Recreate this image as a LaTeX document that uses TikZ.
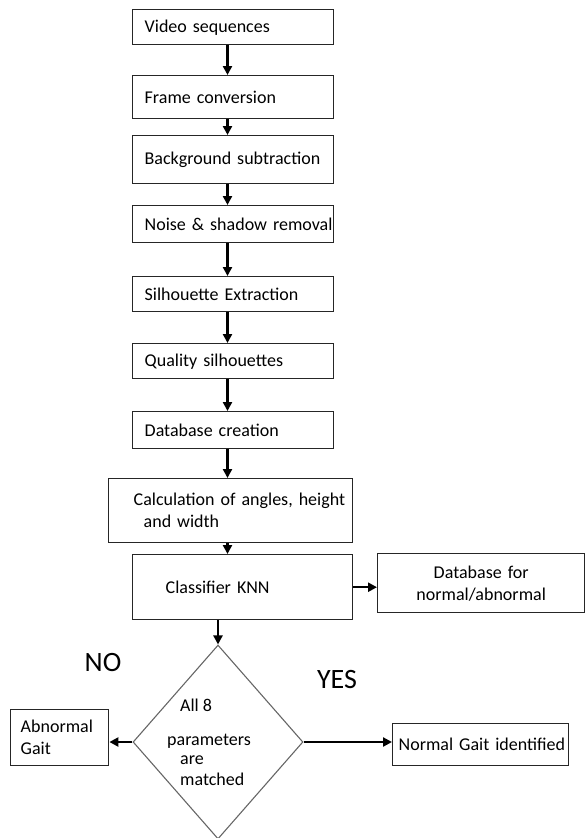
\documentclass[tikz,border=0pt]{standalone}
\usepackage{fontspec}
\setmainfont{Carlito}
\usepackage{tikz}
\usetikzlibrary{shapes.geometric,arrows.meta,positioning,calc}

\tikzset{
    stepbox/.style={draw=black!85, line width=1.4pt, anchor=north west, align=left,
        inner ysep=2pt, font=\fontsize{18pt}{22pt}\selectfont},
    flow/.style={line width=2.3pt, -{Triangle[length=9pt,width=9pt]}},
    answer/.style={font=\fontsize{28pt}{32pt}\selectfont}
}

\begin{document}
\begin{tikzpicture}[x=1pt, y=-1pt]
    \useasboundingbox (0,0) rectangle (585,838);

    % main chain of processing steps
    \node[stepbox, inner xsep=12pt, text width=177pt, minimum height=35pt] (video) at (132,9) {Video sequences};
    \node[stepbox, inner xsep=12pt, text width=177pt, minimum height=43pt] (frame) at (132,75) {Frame conversion};
    \node[stepbox, inner xsep=12pt, text width=177pt, minimum height=48pt] (bgsub) at (132,135) {Background subtraction};
    \node[stepbox, inner xsep=12pt, text width=177pt, minimum height=37pt] (noise) at (132,205) {\mbox{Noise \& shadow removal}};
    \node[stepbox, inner xsep=12pt, text width=177pt, minimum height=35pt] (silh) at (132,276) {Silhouette Extraction};
    \node[stepbox, inner xsep=12pt, text width=177pt, minimum height=35pt] (quality) at (132,343) {Quality silhouettes};
    \node[stepbox, inner xsep=12pt, text width=177pt, minimum height=37pt] (dbcreate) at (132,411) {Database creation};
    \node[stepbox, inner xsep=25pt, text width=194pt, minimum height=64pt] (calc) at (108,478)
        {\mbox{Calculation of angles, height}\\\hspace*{10pt}and width};
    \node[stepbox, inner xsep=33pt, text width=154pt, minimum height=65pt] (knn) at (132,554) {Classifier KNN};
    \node[stepbox, align=center, inner xsep=8pt, text width=191pt, minimum height=59pt] (dbref) at (377,553)
        {Database for\\normal/abnormal};

    % decision
    \node[diamond, draw=black!60, line width=1.1pt, minimum width=170pt, minimum height=194pt,
        inner sep=-4pt, shape aspect=0.876, align=left, font=\fontsize{18pt}{22pt}\selectfont] (check) at (218,742)
        {\hspace*{13pt}All 8\\[12pt]parameters\kern18pt\\[-3pt]\hspace*{13pt}are\\[-1pt]\hspace*{13pt}matched};
    \node[stepbox, inner xsep=10pt, text width=78pt, minimum height=56pt] (abnormal) at (10,709) {Abnormal\\Gait};
    \node[stepbox, inner xsep=6pt, text width=164pt, minimum height=42pt] (normal) at (392,723) {\mbox{Normal Gait identified}};

    \node[answer] (no) at (103,663) {NO};
    \node[answer] (yes) at (337,680) {YES};

    % connectors
    \coordinate (spine) at (227.5,0);
    \foreach \a/\b in {video/frame, frame/bgsub, bgsub/noise, noise/silh, silh/quality,
        quality/dbcreate, dbcreate/calc, calc/knn}
        \draw[flow] (\a.south -| spine) -- (\b.north -| spine);
    \draw[flow] (knn.south -| check.north) -- (check.north);
    \draw[flow] (knn.east) -- (knn.east -| dbref.west);
    \draw[flow] (check.west) -- (abnormal.east |- check.west);
    \draw[flow] (check.east) -- (normal.west |- check.east);
\end{tikzpicture}
\end{document}
